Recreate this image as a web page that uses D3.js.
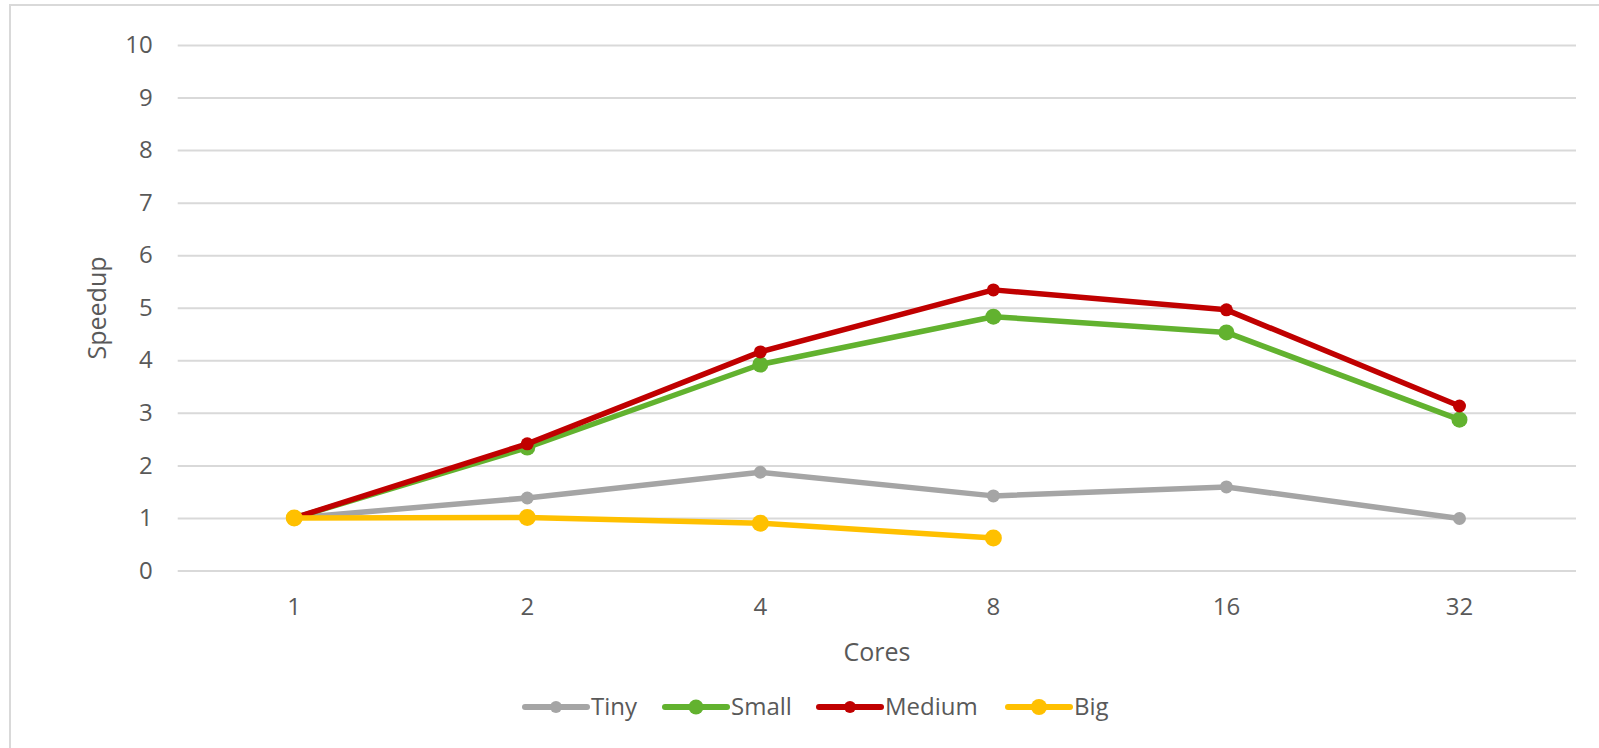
<!DOCTYPE html>
<html>
<head>
<meta charset="utf-8">
<script src="https://cdn.jsdelivr.net/npm/d3@7"></script>
<style>
  body { margin: 0; background: #fff; }
  svg { display: block; font-family: "Open Sans", sans-serif; }
  .grid line { stroke: #d9d9d9; stroke-width: 2; }
  .grid .domain { display: none; }
  .tick text { fill: #595959; font-size: 24px; font-family: "Open Sans", sans-serif; }
</style>
</head>
<body>
<svg id="chart" width="1599" height="748"></svg>
<script>
// values
const cores = ['1', '2', '4', '8', '16', '32']
const yTicks = [0, 1, 2, 3, 4, 5, 6, 7, 8, 9, 10]
const tiny = [1.0, 1.38, 1.87, 1.42, 1.59, 0.99]
const small = [1.0, 2.34, 3.92, 4.83, 4.53, 2.87]
const medium = [1.0, 2.41, 4.16, 5.34, 4.96, 3.13]
const big = [1.0, 1.01, 0.9, 0.62, null, null]

const seriesNames = ['Tiny', 'Small', 'Medium', 'Big']
const seriesValues = [tiny, small, medium, big]
const seriesColors = ['#a5a5a5', '#62b22f', '#c00000', '#ffc000']
const markerRadius = [6.5, 8, 6.5, 8.5]

const svg = d3.select('#chart')

// chart frame
svg.append('rect')
  .attr('x', 10).attr('y', 5)
  .attr('width', 1620).attr('height', 780)
  .attr('fill', 'none')
  .attr('stroke', '#d9d9d9')
  .attr('stroke-width', 2)

const plotLeft = 177.7
const plotRight = 1576
const plotTop = 45
const plotBottom = 570.5

const xScale = d3.scaleBand().domain(cores).range([plotLeft, plotRight])
const yScale = d3.scaleLinear().domain([0, 10]).range([plotBottom, plotTop])

// y gridlines + labels
svg.append('g')
  .attr('class', 'grid')
  .attr('transform', 'translate(' + plotLeft + ',0)')
  .call(d3.axisLeft(yScale).tickValues(yTicks).tickSize(-(plotRight - plotLeft)).tickPadding(25).tickFormat(d3.format('d')))

// x labels
svg.append('g')
  .attr('class', 'grid xaxis')
  .attr('transform', 'translate(0,' + plotBottom + ')')
  .call(d3.axisBottom(xScale).tickSize(0).tickPadding(27))
  .selectAll('line').remove()

// axis titles
svg.append('text')
  .attr('x', 877).attr('y', 652)
  .attr('dy', '0.35em')
  .attr('text-anchor', 'middle')
  .attr('fill', '#595959')
  .style('font-size', '25px')
  .text('Cores')

svg.append('text')
  .attr('transform', 'translate(97,308) rotate(-90)')
  .attr('dy', '0.35em')
  .attr('text-anchor', 'middle')
  .attr('fill', '#595959')
  .style('font-size', '25px')
  .text('Speedup')

const cx = function (i) { return xScale(cores[i]) + xScale.bandwidth() / 2 }

const line = d3.line()
  .defined(function (d) { return d != null })
  .x(function (d, i) { return cx(i) })
  .y(function (d) { return yScale(d) })

seriesValues.forEach(function (values, s) {
  const g = svg.append('g').attr('class', 'series')
  g.append('path')
    .datum(values)
    .attr('d', line)
    .attr('fill', 'none')
    .attr('stroke', seriesColors[s])
    .attr('stroke-width', 5.5)
    .attr('stroke-linejoin', 'round')
    .attr('stroke-linecap', 'round')
  g.selectAll('circle')
    .data(values.map(function (v, i) { return { v: v, i: i } }).filter(function (d) { return d.v != null }))
    .join('circle')
    .attr('cx', function (d) { return cx(d.i) })
    .attr('cy', function (d) { return yScale(d.v) })
    .attr('r', markerRadius[s])
    .attr('fill', seriesColors[s])
})

// legend
const legendX = [525, 665, 819, 1008]
const legendY = 707
seriesNames.forEach(function (name, s) {
  const g = svg.append('g').attr('transform', 'translate(' + legendX[s] + ',' + legendY + ')')
  g.append('line')
    .attr('x1', 0).attr('x2', 62)
    .attr('stroke', seriesColors[s])
    .attr('stroke-width', 6)
    .attr('stroke-linecap', 'round')
  g.append('circle')
    .attr('cx', 31).attr('r', markerRadius[s] - 0.5)
    .attr('fill', seriesColors[s])
  g.append('text')
    .attr('x', 66)
    .attr('dy', '0.35em')
    .attr('fill', '#595959')
    .style('font-size', '24px')
    .text(name)
})
</script>
</body>
</html>
